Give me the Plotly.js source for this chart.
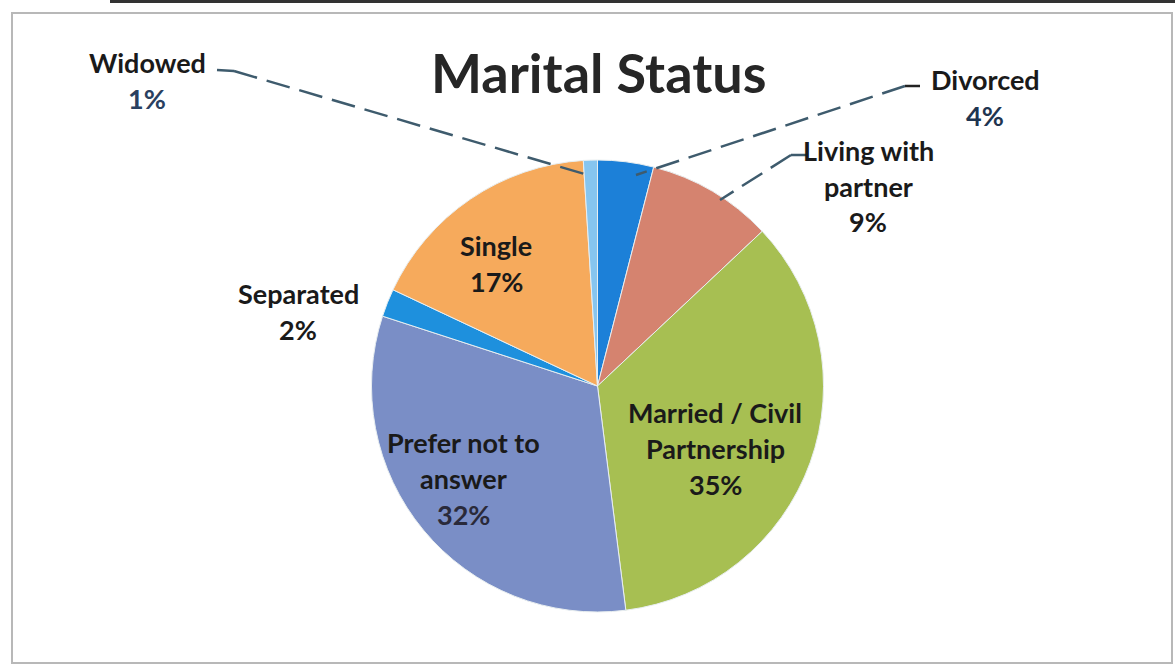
<!DOCTYPE html>
<html>
<head>
<meta charset="utf-8">
<script src="https://cdn.plot.ly/plotly-3.0.1.min.js"></script>
<style>html,body{margin:0;padding:0;background:#fff;}#chart{width:1175px;height:666px;}</style>
</head>
<body>
<div id="chart"></div>
<script>
const categories = ["Divorced", "Living with partner", "Married / Civil Partnership", "Prefer not to answer", "Separated", "Single", "Widowed"];
const percentages = [4, 9, 35, 32, 2, 17, 1];
const sliceColors = ["#1c80d8", "#d5836f", "#a7bf52", "#7a8ec6", "#1e90dd", "#f6aa5c", "#86c5ef"];
// label lines as drawn in the reference (text only)
const labelLines = [
  ["Divorced", "4%"],
  ["Living with", "partner", "9%"],
  ["Married / Civil", "Partnership", "35%"],
  ["Prefer not to", "answer", "32%"],
  ["Separated", "2%"],
  ["Single", "17%"],
  ["Widowed", "1%"]
];

const W = 1175, H = 666;
const px = (x) => x / W;
const py = (y) => 1 - y / H;

// label anchor positions (pixels, center of first line)
const labelPos = [[985, 80], [868, 150], [715, 412], [463, 442], [298, 293], [496, 245], [147, 62]];
const lineGap = 36;
const pctColors = ["#1f3550", "#1a1a1a", "#1a1a1a", "#2a2a3a", "#1a1a1a", "#1a1a1a", "#2a4060"];

const annotations = [];
labelLines.forEach((lines, i) => {
  lines.forEach((t, j) => {
    annotations.push({
      text: t, xref: "paper", yref: "paper",
      x: px(labelPos[i][0]), y: py(labelPos[i][1] + j * lineGap),
      showarrow: false, xanchor: "center", yanchor: "middle",
      font: {family: "Lato, 'Open Sans', sans-serif", size: 27, color: j === lines.length - 1 ? pctColors[i] : "#1a1a1a", weight: "bold"}
    });
  });
});
annotations.push({
  text: "Marital Status", xref: "paper", yref: "paper", x: px(598), y: py(72),
  showarrow: false, xanchor: "center", yanchor: "middle",
  font: {family: "Lato, 'Open Sans', sans-serif", size: 54, color: "#262626", weight: "bold"}
});

const leaderColor = "#3e5b6d";
const shapes = [
  {type: "rect", xref: "paper", yref: "paper", x0: px(12), x1: px(1172), y0: py(663), y1: py(13), line: {color: "#b8b8b8", width: 2}},
  {type: "rect", xref: "paper", yref: "paper", x0: px(110), x1: px(1175), y0: py(3), y1: py(0), fillcolor: "#333", line: {width: 0}},
  // Widowed leader
  {type: "line", xref: "paper", yref: "paper", x0: px(217), y0: py(70), x1: px(234), y1: py(71), line: {color: leaderColor, width: 2.5}},
  {type: "line", xref: "paper", yref: "paper", x0: px(234), y0: py(71), x1: px(588), y1: py(175), line: {color: leaderColor, width: 2.5, dash: "24px,10px"}},
  // Divorced leader
  {type: "line", xref: "paper", yref: "paper", x0: px(920), y0: py(86), x1: px(905), y1: py(86), line: {color: "#222", width: 2.5}},
  {type: "line", xref: "paper", yref: "paper", x0: px(905), y0: py(86), x1: px(636), y1: py(175), line: {color: leaderColor, width: 2.5, dash: "24px,10px"}},
  // Living with partner leader
  {type: "line", xref: "paper", yref: "paper", x0: px(808), y0: py(155), x1: px(791), y1: py(155), line: {color: leaderColor, width: 2.5}},
  {type: "line", xref: "paper", yref: "paper", x0: px(791), y0: py(155), x1: px(720), y1: py(200), line: {color: leaderColor, width: 2.5, dash: "24px,10px"}}
];

const R = 226, cx = 597.5, cy = 386;
const trace = {
  type: "pie",
  labels: categories,
  values: percentages,
  sort: false,
  direction: "clockwise",
  rotation: 0,
  marker: {colors: sliceColors, line: {color: "#e8eef0", width: 1}},
  textinfo: "none",
  hoverinfo: "label+percent",
  domain: {x: [px(cx - R), px(cx + R)], y: [py(cy + R), py(cy - R)]},
  showlegend: false
};

Plotly.newPlot("chart", [trace], {
  width: W, height: H,
  margin: {l: 0, r: 0, t: 0, b: 0},
  paper_bgcolor: "#fff",
  showlegend: false,
  annotations: annotations,
  shapes: shapes
}, {displayModeBar: false, staticPlot: true});
</script>
</body>
</html>
